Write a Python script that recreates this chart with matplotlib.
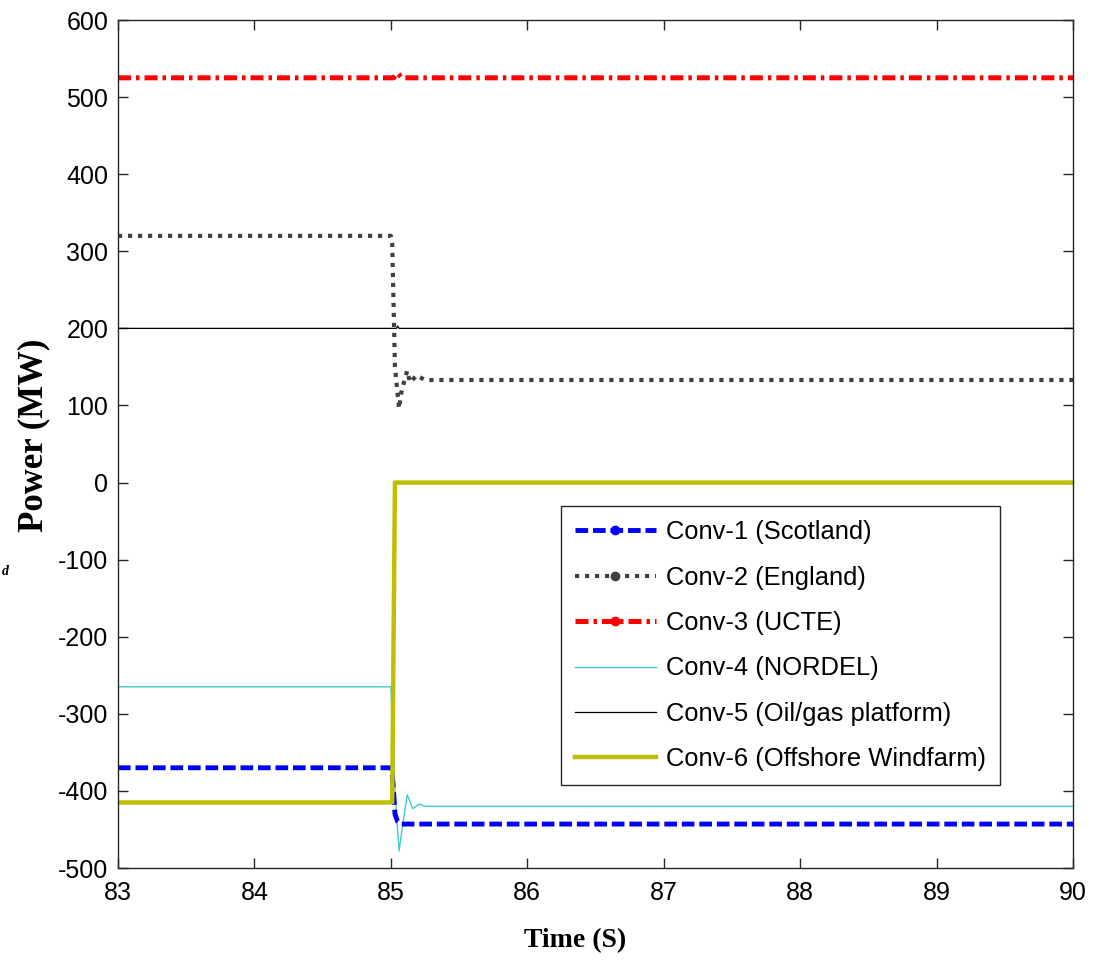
import matplotlib
matplotlib.use("Agg")
import matplotlib.pyplot as plt
from matplotlib.lines import Line2D

plt.rcParams["axes.unicode_minus"] = False

# ---- data (time in s, power in MW) ----
t1 = [83.0, 85.00, 85.01, 85.02, 85.03, 85.05, 85.07, 90.0]
p1 = [-370, -370, -380, -400, -430, -440, -443, -443]          # Conv-1 Scotland

t2 = [83.0, 85.00, 85.01, 85.03, 85.06, 85.08, 85.12, 85.14, 85.19, 85.25, 90.0]
p2 = [320, 320, 310, 150, 96, 120, 145, 130, 139, 133, 133]     # Conv-2 England

t3 = [83.0, 85.02, 85.05, 85.08, 90.0]
p3 = [525, 525, 531, 525, 525]                                  # Conv-3 UCTE

t4 = [83.0, 85.00, 85.03, 85.06, 85.09, 85.12, 85.16, 85.21, 85.25, 90.0]
p4 = [-265, -265, -400, -478, -440, -405, -423, -417, -420, -420]  # Conv-4 NORDEL

t5 = [83.0, 85.04, 85.05, 85.06, 90.0]
p5 = [200, 200, 203, 200, 200]                                  # Conv-5 Oil/gas

t6 = [83.0, 85.01, 85.02, 85.03, 90.0]
p6 = [-415, -415, -200, 0, 0]                                   # Conv-6 Windfarm

labels = ["Conv-1 (Scotland)", "Conv-2 (England)", "Conv-3 (UCTE)",
          "Conv-4 (NORDEL)", "Conv-5 (Oil/gas platform)",
          "Conv-6 (Offshore Windfarm)"]
xticks = [83, 84, 85, 86, 87, 88, 89, 90]
yticks = [-500, -400, -300, -200, -100, 0, 100, 200, 300, 400, 500, 600]

sans = ["Liberation Sans", "DejaVu Sans"]
serif = ["Liberation Serif", "DejaVu Serif"]

fig = plt.figure(figsize=(11.04, 9.6), dpi=100)
ax = fig.add_axes([118/1104, 1-868/960, 955/1104, 848/960])

c_blue, c_grey, c_red = "#0000FF", "#404040", "#FF0000"
c_cyan, c_black, c_olive = "#3FCCCC", "#000000", "#BFBF00"

styles = [
    dict(color=c_blue, lw=3.5, dashes=(2.6, 1.0)),
    dict(color=c_grey, lw=3.0, dashes=(1.0, 1.4)),
    dict(color=c_red, lw=3.6, dashes=(2.6, 1.0, 0.7, 1.0)),
    dict(color=c_cyan, lw=1.0, linestyle="-"),
    dict(color=c_black, lw=0.9, linestyle="-"),
    dict(color=c_olive, lw=3.2, linestyle="-"),
]
series = [(t1, p1), (t2, p2), (t3, p3), (t4, p4), (t5, p5), (t6, p6)]
order = [4, 3, 2, 1, 0, 5]
for i in order:
    t, p = series[i]
    ax.plot(t, p, solid_capstyle="butt", dash_capstyle="butt", **styles[i])

ax.set_xlim(83, 90)
ax.set_ylim(-500, 600)
ax.set_xticks(xticks)
ax.set_yticks(yticks)
ax.tick_params(direction="in", top=True, right=True, length=7, width=1,
               colors="#262626", labelcolor="black")
ax.tick_params(axis="y", pad=7)
ax.tick_params(axis="x", pad=9)
for lab in ax.get_xticklabels() + ax.get_yticklabels():
    lab.set_fontfamily(sans)
    lab.set_fontsize(18)
for s in ax.spines.values():
    s.set_color("#262626")
    s.set_linewidth(1.0)

handles = []
for i, st in enumerate(styles):
    kw = dict(st)
    if i < 3:
        kw.update(marker="o", markersize=6, markerfacecolor=st["color"],
                  markeredgecolor=st["color"])
    handles.append(Line2D([], [], **kw))

leg = ax.legend(handles, labels, loc="upper right",
                bbox_to_anchor=((1000-118)/955, (868-506)/848),
                borderaxespad=0, fancybox=False, framealpha=1,
                edgecolor="#262626", handlelength=3.15, handletextpad=0.4,
                labelspacing=0.84, borderpad=0.55, numpoints=1,
                prop=dict(family=sans, size=18.4))
leg.get_frame().set_linewidth(1.0)

fig.text(575/1104, 1-947/960, "Time (S)", ha="center", va="baseline",
         family=serif, fontweight="bold", fontsize=20)
fig.text(42/1104, 1-435/960, "Power (MW)", rotation=90, rotation_mode="anchor",
         ha="center", va="baseline", family=serif, fontweight="bold", fontsize=25)
fig.text(2/1104, 1-575/960, "d", ha="left", va="baseline", family=serif,
         fontstyle="italic", fontweight="bold", fontsize=10)

fig.savefig("out.png", dpi=100)
